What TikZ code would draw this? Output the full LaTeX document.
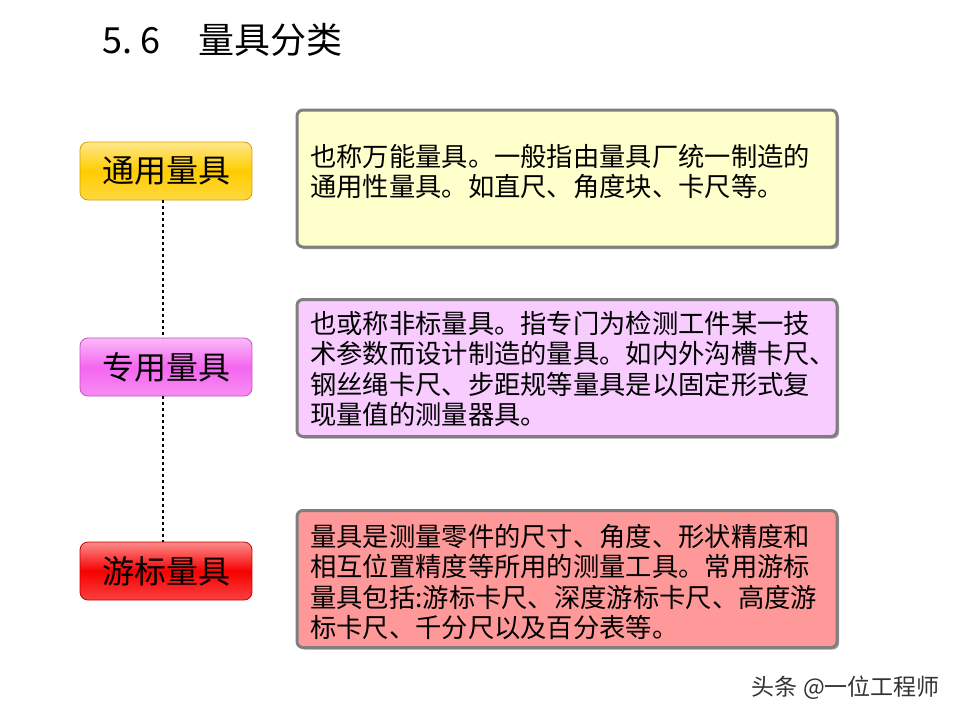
\documentclass[tikz,border=0pt]{standalone}
\usepackage{fontspec}
\newfontfamily\cjk{Noto Sans CJK SC}
\usetikzlibrary{shadows}
\definecolor{yelmain}{HTML}{FFCC00}
\definecolor{pinkmain}{HTML}{F466F0}
\definecolor{redmain}{HTML}{F80000}
\definecolor{descyel}{HTML}{FFFFCC}
\definecolor{descpink}{HTML}{F8CCFF}
\definecolor{descred}{HTML}{FF9999}
\definecolor{frame}{HTML}{7F7F7F}
\tikzset{
  catbox/.style={draw=#1!80!black, line width=0.8pt, rounded corners=8pt,
    minimum width=172pt, minimum height=58pt, inner sep=0pt,
    top color=#1!45!white, bottom color=#1!75!white, middle color=#1,
    font=\cjk\fontsize{32}{36}\selectfont, text=black},
  descbox/.style={draw=frame, line width=3pt, rounded corners=6pt, fill=#1,
    minimum width=540pt, minimum height=137pt, inner sep=0pt,
    drop shadow={shadow xshift=2pt, shadow yshift=-2pt, fill=black!45, opacity=0.8}},
  desctext/.style={anchor=north west, inner sep=0pt, align=left,
    font=\cjk\fontsize{26.3}{30.5}\selectfont},
  dotline/.style={line width=2.5pt, dash pattern=on 2.5pt off 3.5pt, black}
}
\begin{document}
\begin{tikzpicture}[x=1pt, y=-1pt]
\useasboundingbox (0,0) rectangle (960,720);
\node[anchor=west, inner sep=0pt, font=\cjk\fontsize{36}{40}\selectfont] (title) at (102,40) {5.\hspace{8pt}6\hspace{38pt}量具分类};
% category boxes
\node[catbox=yelmain] (c1) at (166,171) {通用量具};
\node[catbox=pinkmain] (c2) at (166,367) {专用量具};
\node[catbox=redmain] (c3) at (166,571) {游标量具};
\draw[dotline] (163,200) -- (163,338);
\draw[dotline] (163,396) -- (163,542);
% description boxes
\node[descbox=descyel] (d1) at (567,178.5) {};
\node[descbox=descpink] (d2) at (567,368) {};
\node[descbox=descred] (d3) at (567,579) {};
\node[desctext] (t1) at (310,144) {也称万能量具。一般指由量具厂统一制造的\\通用性量具。如直尺、角度块、卡尺等。};
\node[desctext] (t2) at (310,311) {也或称非标量具。指专门为检测工件某一技\\术参数而设计制造的量具。如内外沟槽卡尺、\\钢丝绳卡尺、步距规等量具是以固定形式复\\现量值的测量器具。};
\node[desctext] (t3) at (310,524) {量具是测量零件的尺寸、角度、形状精度和\\相互位置精度等所用的测量工具。常用游标\\量具包括:游标卡尺、深度游标卡尺、高度游\\标卡尺、千分尺以及百分表等。};
\node[anchor=east, inner sep=0pt, font=\cjk\fontsize{23}{26}\selectfont, text=black!80] (wm) at (940,688) {头条 @一位工程师};
\end{tikzpicture}
\end{document}
